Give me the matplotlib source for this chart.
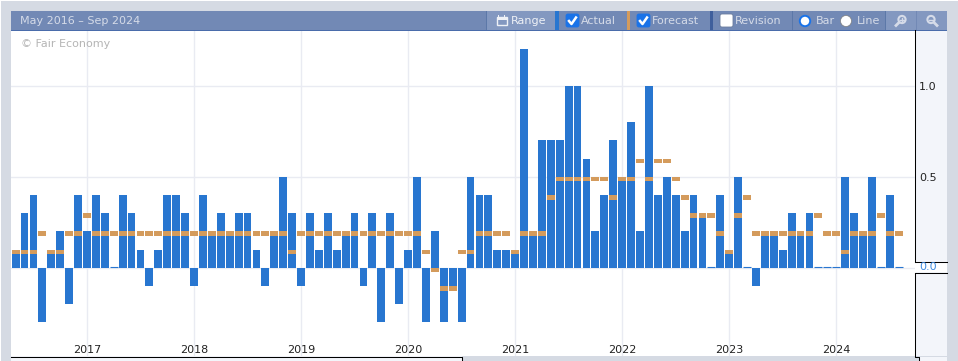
import matplotlib
matplotlib.use("Agg")
import matplotlib.pyplot as plt
from matplotlib.patches import Rectangle, Circle, FancyBboxPatch
import numpy as np

# monthly values May 2016 - Aug 2024
actual = [0.1, 0.3, 0.4, -0.3, 0.1, 0.2, -0.2, 0.4,
          0.2, 0.4, 0.3, 0.0, 0.4, 0.3, 0.1, -0.1, 0.1, 0.4, 0.4, 0.3,
          -0.1, 0.4, 0.2, 0.3, 0.2, 0.3, 0.3, 0.1, -0.1, 0.2, 0.5, 0.3,
          -0.1, 0.3, 0.1, 0.3, 0.1, 0.2, 0.3, -0.1, 0.3, -0.3, 0.3, -0.2,
          0.1, 0.5, -0.3, 0.2, -0.3, -0.1, -0.3, 0.5, 0.4, 0.4, 0.1, 0.1,
          0.1, 1.2, 0.2, 0.7, 0.7, 0.7, 1.0, 1.0, 0.6, 0.2, 0.4, 0.7,
          0.5, 0.8, 0.2, 1.0, 0.4, 0.5, 0.4, 0.2, 0.4, 0.3, 0.0, 0.4,
          0.1, 0.5, 0.0, -0.1, 0.2, 0.2, 0.1, 0.3, 0.2, 0.3, 0.0, 0.0,
          0.0, 0.5, 0.3, 0.2, 0.5, 0.0, 0.4, 0.0]
forecast = [0.1, 0.1, 0.1, 0.2, 0.1, 0.1, 0.2, 0.2,
            0.3, 0.2, 0.2, 0.2, 0.2, 0.2, 0.2, 0.2, 0.2, 0.2, 0.2, 0.2,
            0.2, 0.2, 0.2, 0.2, 0.2, 0.2, 0.2, 0.2, 0.2, 0.2, 0.2, 0.1,
            0.2, 0.2, 0.2, 0.2, 0.2, 0.2, 0.2, 0.2, 0.2, 0.2, 0.2, 0.2,
            0.2, 0.2, 0.1, 0.0, -0.1, -0.1, 0.1, 0.1, 0.2, 0.2, 0.2, 0.2,
            0.1, 0.2, 0.2, 0.2, 0.4, 0.5, 0.5, 0.5, 0.5, 0.5, 0.5, 0.4,
            0.5, 0.5, 0.6, 0.5, 0.6, 0.6, 0.5, 0.4, 0.3, 0.3, 0.3, 0.2,
            0.1, 0.3, 0.4, 0.2, 0.2, 0.2, 0.2, 0.2, 0.2, 0.2, 0.3, 0.2,
            0.2, 0.1, 0.2, 0.2, 0.2, 0.3, 0.2, 0.2]
first_year_index = 8  # Jan 2017
years = [2017, 2018, 2019, 2020, 2021, 2022, 2023, 2024]
yticks = [0.5, 1.0]
ylabels = ["0.5", "1.0"]

BLUE = "#2876d0"
ORANGE = "#d49b5c"
GRID = "#e9ebf2"
GRAY = "#d5dae3"
PANEL = "#f3f5fa"
HEAD = "#7289b5"
HEAD2 = "#8398c0"
HTEXT = "#d5dbe8"

W, H = 958, 361
fig = plt.figure(figsize=(W / 100, H / 100), dpi=100, facecolor="white")

# chrome drawn in pixel coords
bg = fig.add_axes([0, 0, 1, 1])
bg.set_xlim(0, W)
bg.set_ylim(H, 0)
bg.axis("off")


def box(a, x0, y0, x1, y1, c, z=1):
    a.add_patch(Rectangle((x0, y0), x1 - x0, y1 - y0, fc=c, ec="none", zorder=z))


box(bg, 1, 1, W, H, GRAY)
box(bg, 11, 30, 916, 356, "white")
box(bg, 916, 30, 947, 356, PANEL)
box(bg, 11, 356, 462, H, PANEL)
LINE = 0.75
bg.plot([11, 462, 462], [356.5, 356.5, H], color="black", lw=LINE, zorder=3)
bg.plot([915.5, 915.5], [30, 261.5], color="black", lw=LINE, zorder=3)
bg.plot([915.5, 915.5, 919.5, 919.5], [272.5, 356.5, 356.5, H], color="black", lw=LINE, zorder=3)
bg.plot([915.5, 947], [261.5, 261.5], color="black", lw=LINE, zorder=3)
bg.plot([915.5, 947], [272.5, 272.5], color="black", lw=LINE, zorder=3)
box(bg, 916, 262, 947, 272, "white", 2)
box(bg, 920, 357, 947, H, PANEL)

# main chart
ax = fig.add_axes([11 / W, 1 - 356 / H, 904 / W, 325 / H])
ax.patch.set_alpha(0)
x = np.arange(len(actual))
pxx = 8.92
pxy = 182.0
ax.set_xlim((11 - 15.6) / pxx, (915 - 15.6) / pxx)
ax.set_ylim((267.8 - 356) / pxy, (267.8 - 31) / pxy)
for s in ax.spines.values():
    s.set_visible(False)

year_pos = [first_year_index + 12 * i for i in range(len(years))]
ax.set_xticks(year_pos)
ax.set_xticklabels(years, fontsize=8, color="#222222")
ax.set_yticks([])
ax.tick_params(axis="x", length=0, pad=-8)
for p in year_pos:
    ax.axvline(p, color=GRID, lw=1, zorder=0)
for v in yticks + [0.0]:
    ax.axhline(v, color=GRID, lw=1, zorder=0)

ax.bar(x, actual, width=0.88, color=BLUE, linewidth=0, zorder=2)
# zero months still show a hairline of bar
zero = [i for i, v in enumerate(actual) if v == 0]
ax.hlines([0.5 / pxy] * len(zero), [i - 0.45 for i in zero], [i + 0.45 for i in zero], color=BLUE, lw=0.8, zorder=2)
ax.bar(x, [-4.6 / pxy] * len(x), bottom=forecast, width=0.88, color=ORANGE, linewidth=0, zorder=3)

ax.text(21, 44, "\u00a9 Fair Economy", transform=bg.transData, fontsize=8, color="#b5b5b5", va="center", zorder=5)

# y labels on right panel
for v, s in zip(yticks, ylabels):
    bg.text(919, 269 - v * pxy, s, fontsize=8, color="#222222", va="center", zorder=4)
bg.text(919, 267.5, "0.0", fontsize=8, color="#3d8ae0", va="center", zorder=4)

# header bar
box(bg, 11, 11, 947, 30, HEAD, 2)
box(bg, 11, 30, 947, 31, "#4a6cab", 2)
bg.text(20, 21, "May 2016 \u2013 Sep 2024", fontsize=8, color=HTEXT, va="center", zorder=4)
box(bg, 487, 11, 555, 30, HEAD2, 2)
box(bg, 886, 11, 916, 30, HEAD2, 2)
box(bg, 917, 11, 947, 30, HEAD2, 2)
box(bg, 555, 11, 559, 30, BLUE, 3)
box(bg, 627, 11, 630, 30, ORANGE, 3)
box(bg, 710, 11, 713, 30, "#3f5f9c", 3)
for sx in [486, 792, 885]:
    box(bg, sx, 11, sx + 1, 30, "#5c78a8", 3)

bg.text(511, 21, "Range", fontsize=8, color="#eef1f6", va="center", zorder=4)
bg.text(581, 21, "Actual", fontsize=8, color=HTEXT, va="center", zorder=4)
bg.text(652, 21, "Forecast", fontsize=8, color=HTEXT, va="center", zorder=4)
bg.text(735, 21, "Revision", fontsize=8, color=HTEXT, va="center", zorder=4)
bg.text(816, 21, "Bar", fontsize=8, color=HTEXT, va="center", zorder=4)
bg.text(857, 21, "Line", fontsize=8, color=HTEXT, va="center", zorder=4)

# calendar icon
bg.add_patch(Rectangle((497, 17), 10, 8, fc="none", ec="#eef1f6", lw=1, zorder=4))
box(bg, 497, 17, 507, 20, "#eef1f6", 4)
for cx in [499, 505]:
    box(bg, cx - 0.5, 15, cx + 0.5, 18, "#eef1f6", 4)

# checkboxes
for cx, col in [(566, "#1a73e8"), (637, "#1a73e8"), (720, "white")]:
    bg.add_patch(FancyBboxPatch((cx + 1, 15), 11, 11, boxstyle="round,pad=1,rounding_size=2",
                                fc=col, ec="#6b7d9e" if col == "white" else col, lw=0.6, zorder=4))
    if col != "white":
        bg.plot([cx + 3, cx + 5.5, cx + 10], [21, 24, 17.5], color="white", lw=1.8, zorder=5)

# radios
bg.add_patch(Circle((805, 21), 5.2, fc="white", ec="#1a73e8", lw=1.4, zorder=4))
bg.add_patch(Circle((846, 21), 5.5, fc="white", ec="#7d7d7d", lw=0.5, zorder=4))

# zoom icons
icon = "#d5dbe8"
bg.add_patch(Circle((902, 19.5), 3.6, fc="none", ec=icon, lw=1.5, zorder=4))
bg.plot([899, 896], [22.5, 25.5], color=icon, lw=2, zorder=4)
bg.plot([900, 904], [19.5, 19.5], color=icon, lw=1, zorder=4)
bg.plot([902, 902], [17.5, 21.5], color=icon, lw=1, zorder=4)
bg.add_patch(Circle((931, 19.5), 3.6, fc="none", ec=icon, lw=1.5, zorder=4))
bg.plot([934, 937], [22.5, 25.5], color=icon, lw=2, zorder=4)
bg.plot([929, 933], [19.5, 19.5], color=icon, lw=1, zorder=4)

fig.savefig("out.png", dpi=100, facecolor=fig.get_facecolor())
